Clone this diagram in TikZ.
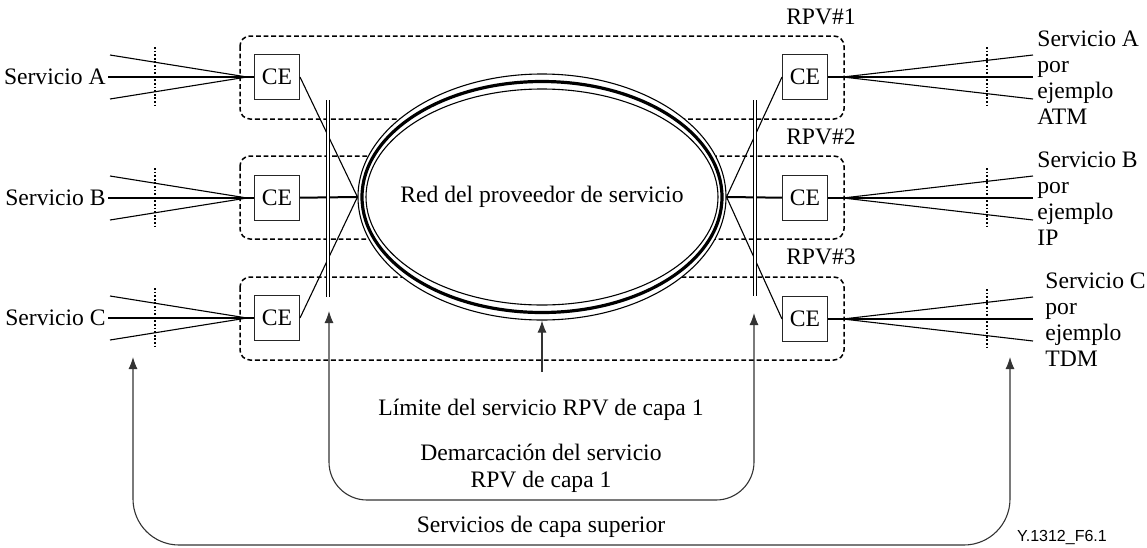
\documentclass[tikz,border=0pt]{standalone}
\usepackage{fontspec}
\setmainfont{Liberation Serif}
\setsansfont{Liberation Sans}
\usetikzlibrary{shapes.geometric, arrows.meta}
\tikzstyle{ce} = [draw=black!85, fill=white, minimum size=22.5pt, inner sep=0pt, line width=0.5pt]
\tikzstyle{rpvbox} = [dash pattern=on 2.4pt off 1.4pt, line width=0.75pt, rounded corners=5pt]
\tikzstyle{demarc} = [double, double distance=1.2pt, line width=0.55pt]
\tikzstyle{fan} = [line width=0.55pt]
\tikzstyle{trunk} = [line width=1pt]
\tikzstyle{cut} = [dash pattern=on 0.9pt off 0.9pt, line width=0.8pt]
\tikzstyle{arrow} = [draw=black!80, line width=0.55pt, ->, >={Latex[length=6pt,width=4.5pt]}]
\tikzstyle{bracket} = [arrow, <->]

\begin{document}
\begin{tikzpicture}[x=0.5pt, y=-0.5pt, font=\fontsize{11.8}{13}\selectfont]
	\useasboundingbox (0,0) rectangle (1147,547);
	
	% RPV boxes
	\draw[rpvbox] (240,36) rectangle (844,119);
	\draw[rpvbox] (240,156) rectangle (844,239);
	\draw[rpvbox] (240,277) rectangle (844,360);
	\node (rpv1) at (821,17) {RPV\#1};
	\node (rpv2) at (821,137) {RPV\#2};
	\node (rpv3) at (821,257) {RPV\#3};
	
	% provider network
	\node[ellipse, draw, fill=white, line width=0.55pt, minimum width=184pt, minimum height=123pt, inner sep=0pt] (net) at (542,197) {};
	\draw[line width=1.6pt] (net.center) ellipse [x radius=90pt, y radius=57.75pt];
	\draw[line width=0.55pt] (net.center) ellipse [x radius=88pt, y radius=54pt];
	\node (netlbl) at (net.center) {Red del proveedor de servicio};
	
	% left side
	\foreach \s/\y in {A/77,B/198,C/318}{
		\node[anchor=east, inner sep=1pt] (srv\s) at (108,\y) {Servicio \s};
		\node[ce] (ceL\s) at (277,\y) {CE};
		\coordinate (inL\s) at (247,\y);
		\draw[fan] (110,\y-22) -- (inL\s) -- (110,\y+22);
		\draw[trunk] (srv\s) -- (ceL\s);
		\draw[cut] (155,\y-30) -- (155,\y+28);
	}
	
	% right side
	\foreach \s/\y/\t/\x in {A/77/ATM/1037,B/198/IP/1037,C/319/TDM/1045}{
		\node[ce] (ceR\s) at (805,\y) {CE};
		\node[anchor=north west, align=left, inner sep=0pt] (out\s) at (\x,\y-47) {Servicio \s\\por\\ejemplo\\\t};
		\coordinate (inR\s) at (843,\y);
		\coordinate (endR\s) at (1033,\y);
		\draw[fan] (1033,\y-22) -- (inR\s) -- (1033,\y+22);
		\draw[trunk] (ceR\s) -- (endR\s);
		\draw[cut] (987,\y-30) -- (987,\y+29);
	}
	
	% access links
	\draw[fan] (ceLA.east) -- (net.west);
	\draw[trunk] (ceLB) -- (net.west);
	\draw[fan] (ceLC.east) -- (net.west);
	\draw[fan] (net.east) -- (ceRA.west);
	\draw[trunk] (net.east) -- (ceRB);
	\draw[fan] (net.east) -- (ceRC.west);
	
	% demarcation
	\draw[demarc] (328,100) -- (328,297);
	\draw[demarc] (755,100) -- (755,296);
	
	% labels and brackets
	\node (limite) at (541,410) {Límite del servicio RPV de capa 1};
	\coordinate (limTail) at (542,372);
	\draw[arrow] (limTail) -- (net.south);
	
	\node[align=center, font=\fontsize{11.8}{13.5}\selectfont] (demtxt) at (541,468) {Demarcación del servicio\\RPV de capa 1};
	\coordinate (demL) at (329,311);
	\coordinate (demR) at (754,313);
	\coordinate (demBot) at (541,500);
	\draw[bracket, rounded corners=19pt] (demL) -- (demL |- demBot) -- (demR |- demBot) -- (demR);
	
	\node (suptxt) at (541,527) {Servicios de capa superior};
	\coordinate (supL) at (133,357);
	\coordinate (supR) at (1010,357);
	\coordinate (supBot) at (541,545);
	\draw[bracket, rounded corners=23pt] (supL) -- (supL |- supBot) -- (supR |- supBot) -- (supR);
	
	\node[font=\sffamily\fontsize{8}{9.6}\selectfont] (figid) at (1062,537) {Y.1312\_F6.1};
\end{tikzpicture}
\end{document}
